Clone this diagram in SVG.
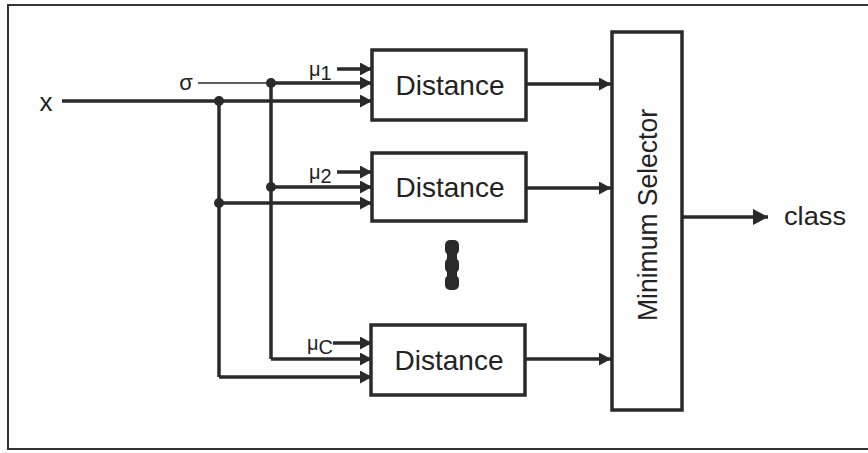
<svg xmlns="http://www.w3.org/2000/svg" width="868" height="453" viewBox="0 0 868 453">
<defs>
<style>
.frame{fill:none;stroke:#333;stroke-width:2}
.box{fill:#fff;stroke:#2a2a2a;stroke-width:3.5}
.w{fill:none;stroke:#2a2a2a;stroke-width:3.5}
.thin{fill:none;stroke:#2a2a2a;stroke-width:1.6}
.dot{fill:#2a2a2a}
text{font-family:"Liberation Sans",Arial,sans-serif;fill:#222}
.lbl{font-size:28px;text-anchor:middle}
</style>
<marker id="ah" markerUnits="userSpaceOnUse" markerWidth="13" markerHeight="13" refX="12" refY="6.5" orient="auto" viewBox="0 0 13 13">
<path d="M0,0 L12,6.5 L0,13 z" fill="#2a2a2a"/>
</marker>
<marker id="ahb" markerUnits="userSpaceOnUse" markerWidth="16" markerHeight="16" refX="15" refY="8" orient="auto" viewBox="0 0 16 16">
<path d="M0,0 L15,8 L0,16 z" fill="#2a2a2a"/>
</marker>
</defs>
<rect width="868" height="453" fill="#fff"/>
<path class="frame" d="M868,5 H8 V449 H868"/>
<g id="connectors">
<path class="w" d="M62,101 H372" marker-end="url(#ah)"/>
<path class="w" d="M219,101 V377"/>
<path class="w" d="M219,203 H372" marker-end="url(#ah)"/>
<path class="w" d="M219,377 H372" marker-end="url(#ah)"/>
<path class="thin" d="M198,83 H271"/>
<path class="w" d="M271,83 H372" marker-end="url(#ah)"/>
<path class="w" d="M271,83 V359"/>
<path class="w" d="M271,187 H372" marker-end="url(#ah)"/>
<path class="w" d="M271,359 H372" marker-end="url(#ah)"/>
<path class="w" d="M337,69 H372" marker-end="url(#ah)"/>
<path class="w" d="M337,172 H372" marker-end="url(#ah)"/>
<path class="w" d="M333,343 H372" marker-end="url(#ah)"/>
<path class="w" d="M527,84 H611" marker-end="url(#ah)"/>
<path class="w" d="M527,188 H611" marker-end="url(#ah)"/>
<path class="w" d="M525,359 H611" marker-end="url(#ah)"/>
<path class="w" d="M682,217 H768" marker-end="url(#ahb)"/>
<circle class="dot" cx="219" cy="101" r="5"/>
<circle class="dot" cx="271" cy="83" r="5"/>
<circle class="dot" cx="271" cy="187" r="5"/>
<circle class="dot" cx="219" cy="203" r="5"/>
</g>
<g id="labels">
<text x="46" y="111" font-size="26" text-anchor="middle">x</text>
<text x="186" y="90" font-size="22" text-anchor="middle">σ</text>
<text x="309" y="76" font-size="20">μ<tspan font-size="20" dy="4">1</tspan></text>
<text x="309" y="179" font-size="20">μ<tspan font-size="20" dy="4">2</tspan></text>
<text x="307" y="350" font-size="20">μ<tspan font-size="20" dy="4">C</tspan></text>
<text x="784" y="225" font-size="26" textLength="62" lengthAdjust="spacingAndGlyphs">class</text>
</g>
<g id="dist1">
<rect class="box" x="372" y="50" width="154" height="70"/>
<text class="lbl" x="450" y="95">Distance</text>
</g>
<g id="dist2">
<rect class="box" x="372" y="153" width="154" height="68"/>
<text class="lbl" x="450" y="197">Distance</text>
</g>
<g id="distC">
<rect class="box" x="371" y="325" width="154" height="70"/>
<text class="lbl" x="449" y="370">Distance</text>
</g>
<g id="ellipsis">
<rect class="dot" x="447" y="246" width="10" height="38"/>
<rect class="dot" x="445" y="240" width="14" height="15" rx="5"/>
<rect class="dot" x="445" y="258" width="14" height="15" rx="5"/>
<rect class="dot" x="445" y="275" width="14" height="15" rx="5"/>
</g>
<g id="selector">
<rect class="box" x="612" y="32" width="70" height="378"/>
<text transform="translate(657,215) rotate(-90)" font-size="27" text-anchor="middle" textLength="212" lengthAdjust="spacingAndGlyphs">Minimum Selector</text>
</g>
</svg>
